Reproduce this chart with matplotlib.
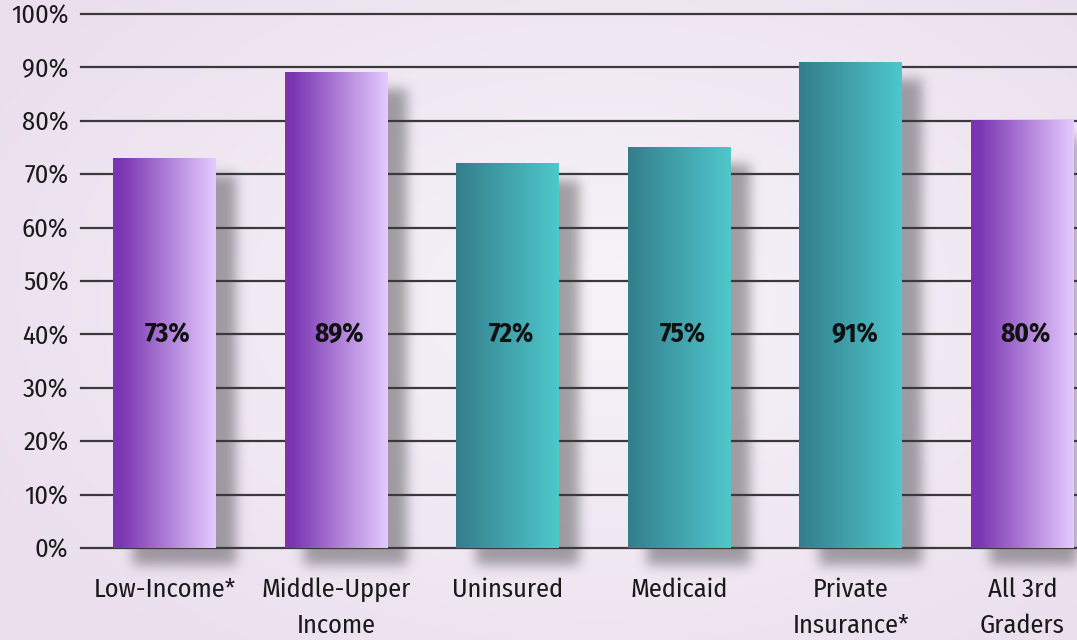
import matplotlib
matplotlib.use('Agg')
import matplotlib.pyplot as plt
from matplotlib import font_manager
from matplotlib.colors import LinearSegmentedColormap, to_rgb
import numpy as np

# 字体：人文风格的窄体
names = {f.name for f in font_manager.fontManager.ttflist}
FONT = next((n for n in ['Fira Sans Condensed', 'PT Sans Narrow', 'Roboto Condensed'] if n in names),
            'Liberation Sans')
plt.rcParams['font.family'] = [FONT, 'DejaVu Sans']

categories = ['Low-Income*', 'Middle-Upper\nIncome', 'Uninsured', 'Medicaid',
              'Private\nInsurance*', 'All 3rd\nGraders']
values = [73, 89, 72, 75, 91, 80]
groups = ['purple', 'purple', 'teal', 'teal', 'teal', 'purple']
yticks = list(range(0, 101, 10))

W, H, DPI = 1077, 640, 100
fig = plt.figure(figsize=(W / DPI, H / DPI), dpi=DPI)

# 背景：淡紫色径向渐变
bg = fig.add_axes([0, 0, 1, 1], zorder=-5)
bg.set_axis_off()
yy, xx = np.mgrid[0:H, 0:W]
r = np.sqrt(((xx - 600) / 700.0) ** 2 + ((yy - 300) / 450.0) ** 2)
r = np.clip(r, 0, 1)[..., None]
c_in = np.array(to_rgb('#f7f4f9'))
c_out = np.array(to_rgb('#ebdfee'))
bg_img = c_in * (1 - r) + c_out * r
bg.imshow(bg_img, extent=(0, 1, 0, 1), aspect='auto', origin='upper')
bg.set_xlim(0, 1)
bg.set_ylim(0, 1)

ax = fig.add_axes([81 / W, 92 / H, 1 - 81 / W, (548 - 14) / H])
ax.patch.set_alpha(0)

cmaps = {
    'purple': LinearSegmentedColormap.from_list('p', [(0, '#7a34b0'), (0.08, '#7b36b2'), (1, '#e4cbff')]),
    'teal': LinearSegmentedColormap.from_list('t', ['#347d8c', '#4ec8cb']),
}
bw = 0.6
x = np.arange(len(categories))

# 网格线
for t in yticks:
    ax.axhline(t, color='#3a3a3a', lw=1.6, zorder=1, clip_on=False)

grad = np.linspace(0, 1, 256)[None, :]
bars = ax.bar(x, values, width=bw, color='none', zorder=3)
for b, g in zip(bars, groups):
    x0, y0 = b.get_x(), b.get_y()
    ax.imshow(grad, cmap=cmaps[g], extent=(x0, x0 + b.get_width(), y0, y0 + b.get_height()),
              aspect='auto', zorder=3)
ax.set_xlim(-0.487, 5.318)
ax.set_ylim(0, 100)

# 阴影：柱子向右下偏移后模糊
def blur1d(n, a, b, sigma):
    ind = np.zeros(n)
    ind[max(int(a), 0):min(int(b), n)] = 1
    k = np.exp(-0.5 * (np.arange(-3 * sigma, 3 * sigma + 1) / sigma) ** 2)
    k /= k.sum()
    return np.convolve(ind, k, mode='same')

alpha = np.zeros((H, W))
dx, dy, sig = 20, 17, 6
for b in bars:
    (px0, py0), (px1, py1) = ax.transData.transform([(b.get_x(), 0), (b.get_x() + b.get_width(), b.get_height())])
    fx = blur1d(W, px0 + dx, px1 + dx, sig)
    # 显示坐标向上，图像行向下
    fy = blur1d(H, H - py1 + dy, H - py0 + dy, sig)
    alpha = np.maximum(alpha, np.outer(fy, fx))
shadow = np.zeros((H, W, 4))
shadow[..., :3] = to_rgb('#3c3a3e')
shadow[..., 3] = alpha * 0.45
bg.imshow(shadow, extent=(0, 1, 0, 1), aspect='auto', origin='upper', zorder=2)

for xi, v in zip(x, values):
    ax.text(xi + 0.02, 40, f'{v}%', ha='center', va='center', fontsize=19.5,
            fontweight='bold', color='#111111', zorder=5)

ax.set_yticks(yticks)
ax.set_yticklabels([f'{t}%' for t in yticks])
ax.set_xticks(x)
ax.set_xticklabels(categories, linespacing=1.55, va='top')
ax.tick_params(axis='both', length=0, labelsize=19, colors='#1a1a1a')
ax.tick_params(axis='y', pad=9)
ax.tick_params(axis='x', pad=21)
for s in ax.spines.values():
    s.set_visible(False)

fig.savefig('out.png', dpi=DPI)
